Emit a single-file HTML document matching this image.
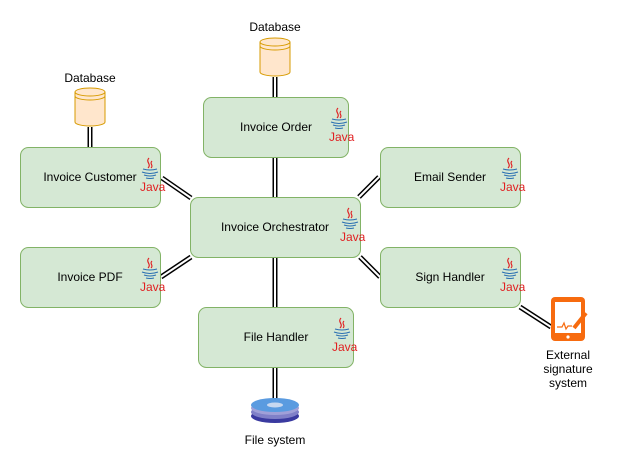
<!DOCTYPE html>
<html><head><style>body{margin:0;background:#fff}svg{display:block}text{font-family:"Liberation Sans",sans-serif;font-size:12px;fill:#000}</style></head>
<body>
<svg width="617" height="468" viewBox="0 0 617 468" xmlns="http://www.w3.org/2000/svg">
<defs>
<g id="java">
<path d="M9 0c-4 4 3 6-1 10M12 3c-3 3 2 4-1 7" stroke="#e11f21" stroke-width="1.2" fill="none"/>
<path d="M3 11q7 2 14 0M2 14q8 3 16 0M4 17q6 2 12 0M6 20q4 1 8 0" stroke="#2a6fb2" stroke-width="1.1" fill="none"/>
<text x="0" y="33" style="font-size:12px;fill:#e11f21" transform="scale(1,1)">Java</text>
</g>
</defs>
<g stroke-linecap="butt">
<g stroke="#000" stroke-width="5">
<line x1="275" y1="77" x2="275" y2="97"/><line x1="275" y1="157" x2="275" y2="197"/>
<line x1="90" y1="127" x2="90" y2="147"/><line x1="162" y1="178" x2="191" y2="198"/>
<line x1="379" y1="177" x2="359" y2="197"/><line x1="161" y1="277" x2="191" y2="257"/>
<line x1="380" y1="277" x2="360" y2="257"/><line x1="275" y1="257" x2="275" y2="307"/>
<line x1="275" y1="367" x2="275" y2="402"/><line x1="520" y1="307" x2="551" y2="327"/>
</g>
<g stroke="#fff" stroke-width="2">
<line x1="275" y1="77" x2="275" y2="97"/><line x1="275" y1="157" x2="275" y2="197"/>
<line x1="90" y1="127" x2="90" y2="147"/><line x1="162" y1="178" x2="191" y2="198"/>
<line x1="379" y1="177" x2="359" y2="197"/><line x1="161" y1="277" x2="191" y2="257"/>
<line x1="380" y1="277" x2="360" y2="257"/><line x1="275" y1="257" x2="275" y2="307"/>
<line x1="275" y1="367" x2="275" y2="402"/><line x1="520" y1="307" x2="551" y2="327"/>
</g>
</g>
<g fill="#d5e8d4" stroke="#82b366" stroke-width="1">
<rect x="203.5" y="97.5" width="145" height="60" rx="8"/>
<rect x="20.5" y="147.5" width="140" height="60" rx="8"/>
<rect x="380.5" y="147.5" width="140" height="60" rx="8"/>
<rect x="190.5" y="197.5" width="170" height="60" rx="8"/>
<rect x="20.5" y="247.5" width="140" height="60" rx="8"/>
<rect x="380.5" y="247.5" width="140" height="60" rx="8"/>
<rect x="198.5" y="307.5" width="155" height="60" rx="8"/>
</g>
<g text-anchor="middle">
<text x="276" y="131">Invoice Order</text>
<text x="90" y="181">Invoice Customer</text>
<text x="450" y="181">Email Sender</text>
<text x="275" y="231">Invoice Orchestrator</text>
<text x="90" y="281">Invoice PDF</text>
<text x="450" y="281">Sign Handler</text>
<text x="276" y="341">File Handler</text>
<text x="275" y="31">Database</text>
<text x="90" y="82">Database</text>
<text x="275" y="444">File system</text>
<text x="568" y="359">External</text>
<text x="568" y="373">signature</text>
<text x="568" y="387">system</text>
</g>
<use href="#java" x="329" y="108"/>
<use href="#java" x="140" y="158"/>
<use href="#java" x="500" y="158"/>
<use href="#java" x="340" y="208"/>
<use href="#java" x="140" y="258"/>
<use href="#java" x="500" y="258"/>
<use href="#java" x="332" y="318"/>
<g fill="#ffe6cc" stroke="#d79b00" stroke-width="1">
<path d="M260 42v30a15 4 0 0 0 30 0v-30"/><ellipse cx="275" cy="42" rx="15" ry="4"/><path d="M260 46a15 4 0 0 0 30 0" fill="none"/>
<path d="M75 92v30a15 4 0 0 0 30 0v-30"/><ellipse cx="90" cy="92" rx="15" ry="4"/><path d="M75 96a15 4 0 0 0 30 0" fill="none"/>
</g>
<ellipse cx="275" cy="416" rx="24" ry="7" fill="#3a3aa0"/>
<ellipse cx="275" cy="412" rx="24" ry="7" fill="#8080c8"/>
<ellipse cx="275" cy="408" rx="24" ry="7" fill="#a0a0d8"/>
<ellipse cx="275" cy="405" rx="24" ry="7" fill="#5a9be0"/>
<ellipse cx="275" cy="405" rx="8" ry="2.5" fill="#c8d8f0"/>
<rect x="551" y="297" width="34" height="44" rx="4" fill="#f76b0f"/>
<rect x="555" y="302" width="26" height="31" fill="#fff"/>
<circle cx="568" cy="337" r="1.6" fill="#fff"/>
<path d="M557 327h5l2-4 2 6 2-3h4" stroke="#f76b0f" stroke-width="1.2" fill="none"/>
<path d="M574 328l12-15" stroke="#f76b0f" stroke-width="4"/>
</svg>
</body></html>
